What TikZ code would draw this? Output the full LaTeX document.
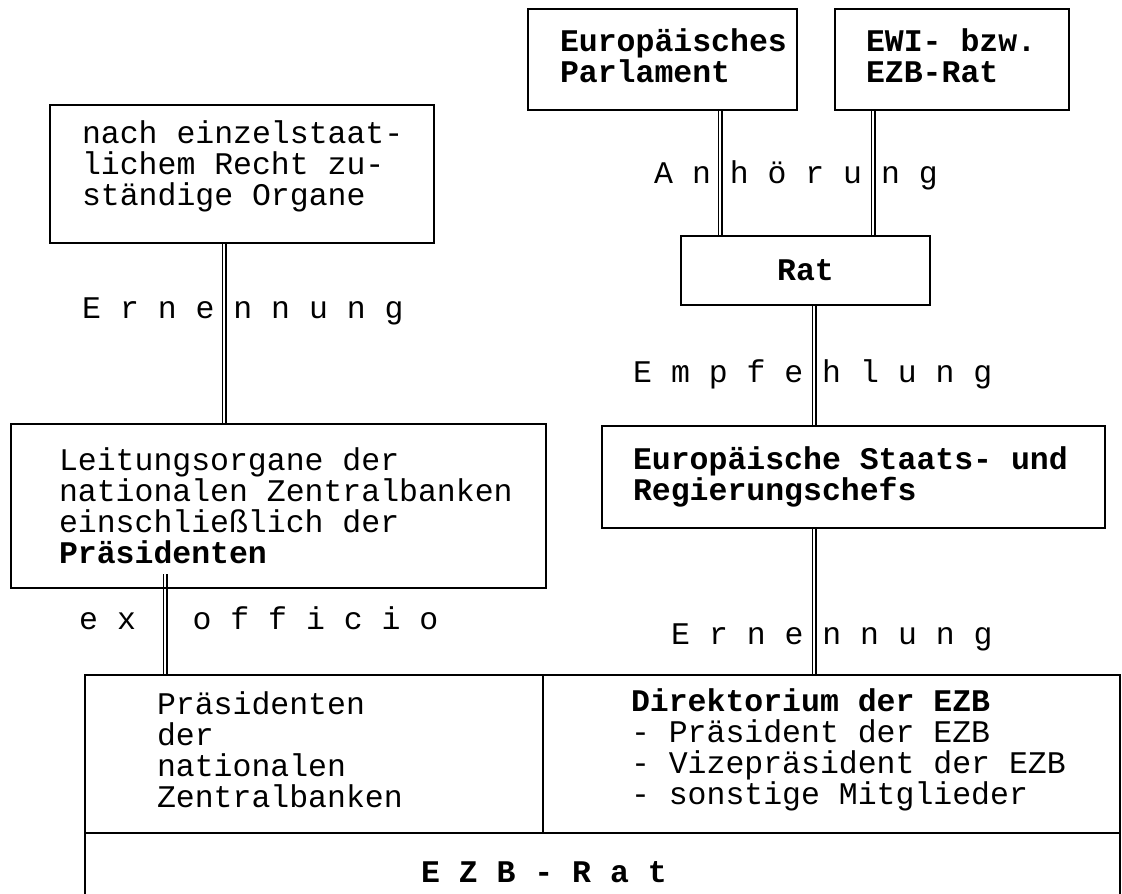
\documentclass[tikz,border=0pt]{standalone}
\usepackage{fontspec}
\setmainfont{Liberation Mono}
\usetikzlibrary{backgrounds}

% left margin inside a box, spaces kept at full mono width; optional: lift text
\newcommand{\boxtext}[3][0]{\parindent=0pt\leftskip=#2pt\relax\spaceskip=\fontdimen2\font\relax #3\par\kern#1pt\hrule height0pt\relax}

\begin{document}
\begin{tikzpicture}[
  x=1pt, y=-1pt,
  box/.style={draw, line width=2pt, inner xsep=4pt, inner ysep=0pt, font=\fontsize{31.5}{31}\selectfont},
  lbl/.style={inner sep=0pt, anchor=west, font=\fontsize{31.5}{31}\selectfont},
  conn/.style={double, double distance=2.4pt, line width=1.3pt}
]
\useasboundingbox (0,0) rectangle (1122,894);
\clip (0,0) rectangle (1122,894);

% upper boxes
\node[box, text width=261pt, minimum height=101pt] (ep) at (662.5,59.5)
  {\boxtext[8]{28}{\bfseries Europäisches\\Parlament}};
\node[box, text width=226pt, minimum height=101pt] (ewi) at (952,59.5)
  {\boxtext[8]{27}{\bfseries EWI- bzw.\\EZB-Rat}};
\node[box, text width=376pt, minimum height=138pt] (nach) at (242,174)
  {\boxtext[16]{28}{nach einzelstaat-\\lichem Recht zu-\\ständige Organe}};
\node[box, align=center, text width=241pt, minimum height=69pt] (rat) at (805.5,270.5)
  {\bfseries Rat};

% middle boxes
\node[box, text width=527pt, minimum height=164pt] (leitung) at (278.5,506)
  {\boxtext{44}{Leitungsorgane der\\nationalen Zentralbanken\\einschließlich der\\\textbf{Präsidenten}}};
\node[box, text width=495pt, minimum height=102pt] (staats) at (853.5,477)
  {\boxtext{27}{\bfseries Europäische Staats- und\\Regierungschefs}};

% EZB-Rat
\node[box, text width=450pt, minimum height=158pt] (praes) at (314,754)
  {\boxtext[8]{68}{Präsidenten\\der\\nationalen\\Zentralbanken}};
\node[box, text width=569pt, minimum height=158pt] (direkt) at (831.5,754)
  {\boxtext[8]{84}{\textbf{Direktorium der EZB}\\- Präsident der EZB\\- Vizepräsident der EZB\\- sonstige Mitglieder}};
\node[box, text width=1027pt, minimum height=78pt] (ezbrat) at (602.5,872)
  {\boxtext{332}{\bfseries E Z B - R a t}};

% labels
\node[lbl] (anh) at (654,175) {A n h ö r u n g};
\node[lbl] (ern1) at (82,311) {E r n e n n u n g};
\node[lbl] (empf) at (633,374) {E m p f e h l u n g};
\node[lbl] (exoff) at (79,618) {e x~~~o f f i c i o};
\node[lbl] (ern2) at (671,637) {E r n e n n u n g};

\begin{scope}[on background layer]
\draw[conn] ([xshift=-18pt]nach.south) -- ([xshift=-18pt]nach.south |- leitung.north);
\draw[conn] ([xshift=57.5pt]ep.south) -- ([xshift=57.5pt]ep.south |- rat.north);
\draw[conn] ([xshift=-79pt]ewi.south) -- ([xshift=-79pt]ewi.south |- rat.north);
\draw[conn] ([xshift=8.5pt]rat.south) -- ([xshift=8.5pt]rat.south |- staats.north);
\draw[conn] ([xshift=-39.5pt]staats.south) -- ([xshift=-39.5pt]staats.south |- direkt.north);
\draw[conn] ([xshift=-113.5pt,yshift=15pt]leitung.south) -- ([xshift=-113.5pt]leitung.south |- praes.north);
\end{scope}

\end{tikzpicture}
\end{document}
